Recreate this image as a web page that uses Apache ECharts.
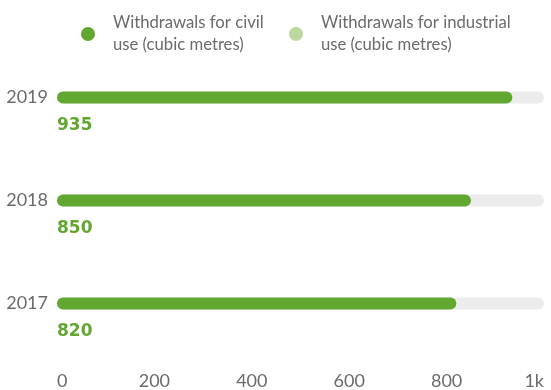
<!DOCTYPE html>
<html>
<head>
<meta charset="utf-8">
<script src="https://cdn.jsdelivr.net/npm/echarts@6/dist/echarts.min.js"></script>
<style>
html,body{margin:0;padding:0;background:#fff;}
#chart{width:551px;height:390px;}
</style>
</head>
<body>
<div id="chart"></div>
<script>
var years = ['2017', '2018', '2019'];
var civilValues = [820, 850, 935];
var industrialValues = [0, 0, 0];
var seriesNames = ['Withdrawals for civil use (cubic metres)', 'Withdrawals for industrial use (cubic metres)'];
var legendLabels = ['Withdrawals for civil\nuse (cubic metres)', 'Withdrawals for industrial\nuse (cubic metres)'];
var axisMin = 0, axisMax = 1000, axisStep = 200;

var GREEN = '#62a730';
var LIGHT = '#bcd89f';
var GREY_TEXT = '#6b6b6b';
var FONT = 'Lato';

var chart = echarts.init(document.getElementById('chart'));

function legendCfg(i, left) {
  return {
    left: left, top: 12, padding: 0,
    itemWidth: 14, itemHeight: 14, icon: 'circle',
    selectedMode: false,
    data: [seriesNames[i]],
    formatter: function () { return legendLabels[i]; },
    textStyle: { color: GREY_TEXT, fontSize: 16.7, fontFamily: FONT, lineHeight: 22, padding: [0, 0, 0, 13] }
  };
}

chart.setOption({
  animation: false,
  legend: [legendCfg(0, 81), legendCfg(1, 289)],
  grid: { left: 57, right: 7, top: 46, bottom: 32, containLabel: false },
  xAxis: {
    type: 'value', min: axisMin, max: axisMax, interval: axisStep,
    splitLine: { show: false }, axisLine: { show: false }, axisTick: { show: false },
    axisLabel: {
      color: GREY_TEXT, fontSize: 18, fontFamily: FONT, margin: 17,
      alignMinLabel: 'left', alignMaxLabel: 'right',
      formatter: function (v) { return v >= 1000 ? (v / 1000) + 'k' : String(v); }
    }
  },
  yAxis: {
    type: 'category', data: years,
    axisLine: { show: false }, axisTick: { show: false },
    axisLabel: { color: GREY_TEXT, fontSize: 18, fontFamily: FONT, margin: 9 }
  },
  series: [
    {
      name: seriesNames[0], type: 'bar', data: civilValues, barWidth: 12,
      itemStyle: { color: GREEN, borderRadius: 6 },
      showBackground: true,
      backgroundStyle: { color: '#ececec', borderRadius: 6 },
      label: {
        show: true, position: [0, 34], align: 'left', verticalAlign: 'middle',
        color: GREEN, fontSize: 17, fontWeight: 'bold', fontFamily: 'DejaVu Sans'
      },
      z: 2
    },
    {
      name: seriesNames[1], type: 'bar', data: industrialValues, barWidth: 12, barGap: '-100%',
      itemStyle: { color: LIGHT, borderRadius: 6 },
      label: { show: false },
      z: 3
    }
  ]
});
</script>
</body>
</html>
